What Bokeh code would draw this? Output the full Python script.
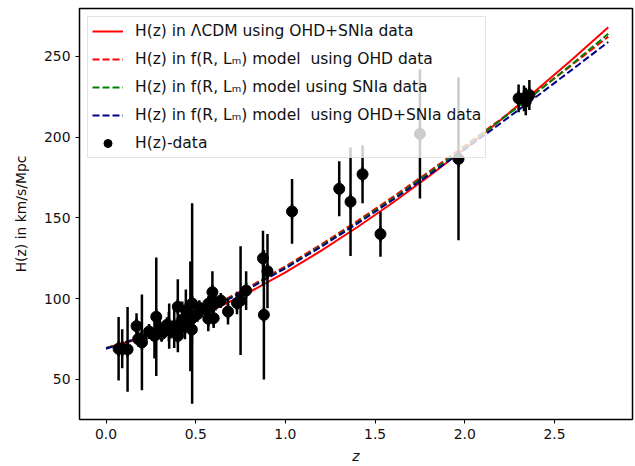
import numpy as np
from bokeh.plotting import figure
from bokeh.models import Range1d, FixedTicker, PrintfTickFormatter, Legend, LegendItem
from bokeh.embed import file_html
from bokeh.resources import INLINE

# OHD H(z) data: redshift, H(z) [km/s/Mpc], 1-sigma error
z_data = [0.07, 0.09, 0.12, 0.17, 0.179, 0.199, 0.2, 0.27, 0.28, 0.352,
          0.38, 0.4, 0.4004, 0.425, 0.445, 0.47, 0.4783, 0.48, 0.593, 0.68,
          0.75, 0.781, 0.875, 0.88, 0.9, 1.037, 1.3, 1.363, 1.43, 1.53,
          1.75, 1.965,
          0.24, 0.3, 0.31, 0.34, 0.35, 0.36, 0.38, 0.40, 0.43, 0.44,
          0.44, 0.48, 0.51, 0.52, 0.56, 0.57, 0.57, 0.59, 0.6, 0.61,
          0.64, 0.73, 2.3, 2.33, 2.34, 2.36]
H_data = [69, 69, 68.6, 83, 75, 75, 72.9, 77, 88.8, 83,
          83, 95, 77, 87.1, 92.8, 89, 80.9, 97, 104, 92,
          98.8, 105, 125, 90, 117, 154, 168, 160, 177, 140,
          202, 186.5,
          79.69, 81.7, 78.18, 83.8, 82.7, 79.94, 81.5, 82.04, 86.45, 82.6,
          84.81, 87.79, 90.4, 94.35, 93.34, 87.6, 96.8, 98.48, 87.9, 97.3,
          98.82, 97.3, 224, 224, 222, 226]
H_err = [19.6, 12, 26.2, 8, 4, 5, 29.6, 14, 36.6, 14,
         13.5, 17, 10.2, 11.2, 12.9, 34, 9, 62, 13, 8,
         33.6, 12, 17, 40, 23, 20, 17, 33.6, 18, 14,
         40, 50.4,
         2.99, 6.22, 4.74, 3.66, 9.1, 3.38, 1.9, 2.03, 3.97, 7.8,
         1.83, 2.03, 1.9, 2.64, 2.3, 7.8, 3.4, 3.18, 6.1, 2.1,
         2.98, 7.0, 8.6, 8, 8.5, 9.3]

# model curves
z_model = [0.0, 0.2, 0.4, 0.6, 0.8, 1.0, 1.2, 1.4, 1.6, 1.8, 2.0, 2.2, 2.4, 2.6, 2.8]
H_lcdm = [69.5, 75.7, 83.7, 93.2, 104.1, 116.3, 129.7, 144.2, 159.5, 175.8,
          192.8, 210.6, 229.1, 248.2, 268.0]
H_frlm_ohd = [69.3, 76.5, 85.5, 95.8, 107.4, 120.0, 133.6, 148.0, 163.0, 178.6,
              194.6, 211.0, 227.8, 244.9, 262.2]
H_frlm_sn = [69.3, 76.3, 85.1, 95.3, 106.8, 119.3, 132.8, 147.1, 162.1, 177.8,
             193.9, 210.5, 227.6, 245.4, 264.0]
H_frlm_comb = [69.0, 76.1, 84.9, 95.0, 106.4, 118.8, 132.2, 146.4, 161.2, 176.6,
               192.4, 208.6, 225.1, 241.9, 258.9]

labels = ["H(z) in ΛCDM using OHD+SNIa data",
          "H(z) in f(R, Lₘ) model  using OHD data",
          "H(z) in f(R, Lₘ) model using SNIa data",
          "H(z) in f(R, Lₘ) model  using OHD+SNIa data",
          "H(z)-data"]
x_ticks = [0.0, 0.5, 1.0, 1.5, 2.0, 2.5]
y_ticks = [50, 100, 150, 200, 250]

FONT = "DejaVu Sans"
FS = "13.9px"

p = figure(width=635, height=466, output_backend="svg", toolbar_location=None,
           x_range=Range1d(-0.148, 2.935), y_range=Range1d(25.2, 279.6),
           min_border_left=79, min_border_right=3, min_border_top=8,
           min_border_bottom=45)

p.xgrid.visible = False
p.ygrid.visible = False
p.outline_line_color = "black"
p.outline_line_width = 1.5
p.background_fill_color = "white"
p.border_fill_color = "white"

for ax in (p.xaxis[0], p.yaxis[0]):
    ax.axis_line_color = None
    ax.major_tick_line_color = "black"
    ax.major_tick_line_width = 1
    ax.major_tick_out = 4
    ax.major_tick_in = 0
    ax.minor_tick_line_color = None
    ax.major_label_text_font = FONT
    ax.major_label_text_font_size = FS
    ax.major_label_text_color = "#111111"
    ax.axis_label_text_font = FONT
    ax.axis_label_text_font_size = FS
    ax.axis_label_text_font_style = "normal"
    ax.axis_label_text_color = "#111111"
    ax.major_label_standoff = 5

p.xaxis.ticker = FixedTicker(ticks=x_ticks)
p.xaxis.formatter = PrintfTickFormatter(format="%.1f")
p.yaxis.ticker = FixedTicker(ticks=y_ticks)
p.yaxis.formatter = PrintfTickFormatter(format="%d")
p.xaxis.axis_label = "z"
p.xaxis.axis_label_text_font_style = "italic"
p.xaxis.axis_label_standoff = 6
p.yaxis.axis_label = "H(z) in km/s/Mpc"
p.yaxis.axis_label_standoff = 12

r_lcdm = p.line(z_model, H_lcdm, line_color="red", line_width=2)
r_ohd = p.line(z_model, H_frlm_ohd, line_color="red", line_width=2, line_dash="7 3")
r_sn = p.line(z_model, H_frlm_sn, line_color="green", line_width=2, line_dash="7 3")
r_comb = p.line(z_model, H_frlm_comb, line_color="darkblue", line_width=2, line_dash="7 3")

z_arr = np.array(z_data)
H_arr = np.array(H_data)
e_arr = np.array(H_err)
r_err = p.segment(x0=z_arr, y0=H_arr - e_arr, x1=z_arr, y1=H_arr + e_arr,
                  line_color="black", line_width=2.5)
# short vertical bar marker on the data (hidden by the error bars),
# used to show an error-bar stub in the legend entry
r_dash = p.scatter(x=z_arr, y=H_arr, marker="dash", angle=np.pi / 2, size=15,
                   line_color="black", line_width=2.5)
r_pts = p.scatter(z_arr, H_arr, size=11, fill_color="black", line_color="black")

legend = Legend(items=[
    LegendItem(label=labels[0], renderers=[r_lcdm]),
    LegendItem(label=labels[1], renderers=[r_ohd]),
    LegendItem(label=labels[2], renderers=[r_sn]),
    LegendItem(label=labels[3], renderers=[r_comb]),
    LegendItem(label=labels[4], renderers=[r_dash, r_pts]),
], location="top_left")
legend.margin = 8
legend.padding = 4
legend.spacing = 8
legend.glyph_width = 31
legend.glyph_height = 20
legend.label_height = 20
legend.label_standoff = 12
legend.label_text_font = FONT
legend.label_text_font_size = "15.5px"
legend.label_text_color = "#111111"
legend.border_line_color = "#cccccc"
legend.border_line_width = 1
legend.background_fill_color = "white"
legend.background_fill_alpha = 0.8
p.add_layout(legend)

open("out.html", "w").write(file_html(p, INLINE))
